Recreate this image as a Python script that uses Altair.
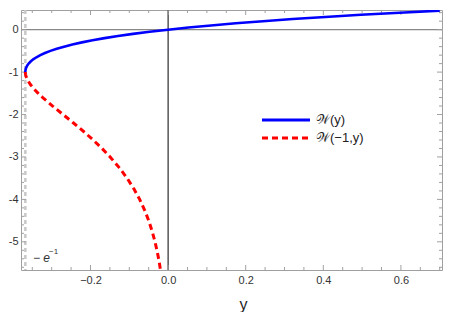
import altair as alt
import pandas as pd

# Principal branch W(y): sample points (y, W)
w0_y = [-0.36788, -0.36786, -0.36771, -0.36741, -0.36664, -0.36591, -0.36330, -0.35946,
        -0.35427, -0.34761, -0.33933, -0.32929, -0.31732, -0.30327, -0.28693, -0.26813,
        -0.24664, -0.22225, -0.19470, -0.16375, -0.12911, -0.09048, -0.04756, 0.0,
        0.05256, 0.11052, 0.17427, 0.24428, 0.32101, 0.40496, 0.49667, 0.59673, 0.70006]
w0_w = [-1.0, -0.99, -0.97, -0.95, -0.92, -0.90, -0.85, -0.80,
        -0.75, -0.70, -0.65, -0.60, -0.55, -0.50, -0.45, -0.40,
        -0.35, -0.30, -0.25, -0.20, -0.15, -0.10, -0.05, 0.0,
        0.05, 0.10, 0.15, 0.20, 0.25, 0.30, 0.35, 0.40, 0.4475]

# Lower branch W(-1, y)
wm1_y = [-0.36788, -0.36786, -0.36772, -0.36744, -0.36616, -0.36143, -0.35429, -0.34524,
         -0.33470, -0.32304, -0.29754, -0.27067, -0.24377, -0.21772, -0.19311, -0.17027,
         -0.14936, -0.12602, -0.10569, -0.08819, -0.07326, -0.06062, -0.04999, -0.04110,
         -0.03369, -0.02755, -0.02248, -0.01965, -0.01756]
wm1_w = [-1.0, -1.01, -1.03, -1.05, -1.1, -1.2, -1.3, -1.4,
         -1.5, -1.6, -1.8, -2.0, -2.2, -2.4, -2.6, -2.8,
         -3.0, -3.25, -3.5, -3.75, -4.0, -4.25, -4.5, -4.75,
         -5.0, -5.25, -5.5, -5.664, -5.8]

x_major = [-0.2, 0.0, 0.2, 0.4, 0.6]
x_minor = [-0.35, -0.3, -0.25, -0.15, -0.1, -0.05, 0.05, 0.1, 0.15, 0.25, 0.3, 0.35,
           0.45, 0.5, 0.55, 0.65, 0.7]
y_major = [-5, -4, -3, -2, -1, 0]
y_minor = [-5.6, -5.4, -5.2, -4.8, -4.6, -4.4, -4.2, -3.8, -3.6, -3.4, -3.2,
           -2.8, -2.6, -2.4, -2.2, -1.8, -1.6, -1.4, -1.2, -0.8, -0.6, -0.4, -0.2, 0.2, 0.4]
branch_point = [-0.36788]
zero_x = [0.0]
zero_y = [0.0]
legend_labels = ["\U0001D4B2(y)", "\U0001D4B2(\u22121,y)"]
anno_main = ["\u2212 e"]
anno_sup = ["\u22121"]

W, H = 421, 260
FONT = "Liberation Sans"
xs = alt.Scale(domain=[-0.3791, 0.7059], nice=False, zero=False)
ys = alt.Scale(domain=[-5.664, 0.4635], nice=False, zero=False)

df0 = pd.DataFrame({"x": w0_y, "w": w0_w, "i": range(len(w0_y))})
dfm1 = pd.DataFrame({"x": wm1_y, "w": wm1_w, "i": range(len(wm1_y))})

x_axis = alt.Axis(values=x_major, format=".1f", ticks=False, domain=False, grid=False,
                  labelFontSize=11, labelFont=FONT, labelColor="#333333", labelPadding=4,
                  title="y", titleFont=FONT, titleFontSize=16, titleFontWeight="normal",
                  titleColor="#222222", titleX=222, titleY=39, titleAlign="center",
                  titleBaseline="alphabetic")
y_axis = alt.Axis(values=y_major, format="d", ticks=False, domain=False, grid=False,
                  labelExpr="replace(datum.label, '\u2212', '-')",
                  labelFontSize=11, labelFont=FONT, labelColor="#333333", labelPadding=3,
                  title="")


def X(field):
    return alt.X(field, type="quantitative", scale=xs, axis=x_axis)


def Y(field):
    return alt.Y(field, type="quantitative", scale=ys, axis=y_axis)


vline = alt.Chart(pd.DataFrame({"x": branch_point})).mark_rule(
    color="#c8c8c8", strokeWidth=2.5, strokeDash=[4, 3]
).encode(x=X("x"))

zx = alt.Chart(pd.DataFrame({"x": zero_x})).mark_rule(color="black", strokeWidth=1).encode(x=X("x"))
zy = alt.Chart(pd.DataFrame({"y": zero_y})).mark_rule(color="#888888", strokeWidth=1.4).encode(y=Y("y"))

blue = alt.Chart(df0).mark_line(color="#0000ff", strokeWidth=2.6, clip=True).encode(
    x=X("x"), y=Y("w"), order="i:Q")
red = alt.Chart(dfm1).mark_line(color="#ff0000", strokeWidth=3, strokeDash=[6, 4], clip=True).encode(
    x=X("x"), y=Y("w"), order="i:Q")

TC = "#a0a0a0"


def xticks(vals, y0, y1):
    return alt.Chart(pd.DataFrame({"v": vals})).mark_rule(color=TC, strokeWidth=1).encode(
        x=X("v"), y=alt.value(y0), y2=alt.value(y1))


def yticks(vals, x0, x1):
    return alt.Chart(pd.DataFrame({"v": vals})).mark_rule(color=TC, strokeWidth=1).encode(
        y=Y("v"), x=alt.value(x0), x2=alt.value(x1))


ticks = [
    xticks(x_major, H, H - 5), xticks(x_minor, H, H - 3),
    xticks(x_major, 0, 5), xticks(x_minor, 0, 3),
    yticks(y_major, 0, 5), yticks(y_minor, 0, 3),
    yticks(y_major, W, W - 5), yticks(y_minor, W, W - 3),
]

anno1 = alt.Chart(pd.DataFrame({"x": [-0.3482], "y": [-5.372], "t": anno_main})).mark_text(
    align="left", baseline="middle", font=FONT, fontSize=12, fontStyle="italic", color="#333333"
).encode(x=X("x"), y=Y("y"), text="t:N")
anno2 = alt.Chart(pd.DataFrame({"x": [-0.307], "y": [-5.25], "t": anno_sup})).mark_text(
    align="left", baseline="middle", font=FONT, fontSize=8, color="#333333"
).encode(x=X("x"), y=Y("y"), text="t:N")

one = pd.DataFrame({"a": [0]})
leg1 = alt.Chart(one).mark_rule(color="#0000ff", strokeWidth=3).encode(
    x=alt.value(241), x2=alt.value(289), y=alt.value(110))
leg2 = alt.Chart(one).mark_rule(color="#ff0000", strokeWidth=3, strokeDash=[6, 4]).encode(
    x=alt.value(241), x2=alt.value(289), y=alt.value(128))
lt1 = alt.Chart(pd.DataFrame({"t": [legend_labels[0]]})).mark_text(
    align="left", baseline="middle", font=FONT, fontSize=13, color="#222222"
).encode(x=alt.value(295), y=alt.value(110), text="t:N")
lt2 = alt.Chart(pd.DataFrame({"t": [legend_labels[1]]})).mark_text(
    align="left", baseline="middle", font=FONT, fontSize=13, color="#222222"
).encode(x=alt.value(295), y=alt.value(128), text="t:N")

chart = alt.layer(
    vline, zy, zx, *ticks, blue, red, anno1, anno2, leg1, leg2, lt1, lt2
).properties(
    width=W, height=H,
    padding=0,
).configure(
    font=FONT,
    view=alt.ViewConfig(stroke=TC, strokeWidth=1),
)

chart.save("out.html", embed_options={"renderer": "svg", "actions": False})
